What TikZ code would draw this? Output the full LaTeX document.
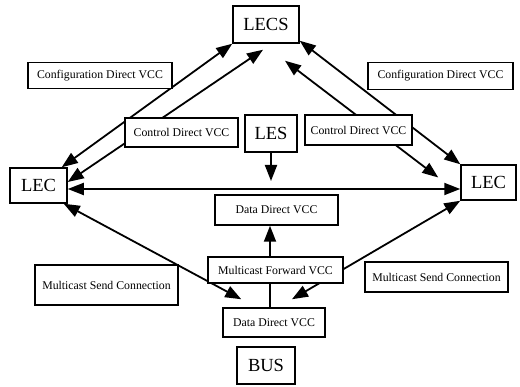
\documentclass[tikz,border=0pt]{standalone}
\usepackage{fontspec}
\setmainfont{Liberation Serif}
\usetikzlibrary{arrows.meta,backgrounds}
\begin{document}
\begin{tikzpicture}[x=1pt,y=-1pt,
  lbl/.style={draw, line width=1.5pt, fill=white, inner sep=0pt, font=\fontsize{11.8}{13}\selectfont},
  big/.style={draw, line width=1.5pt, fill=white, inner sep=0pt, font=\fontsize{18.5}{20}\selectfont},
  tip/.tip={Triangle[length=16pt,width=12pt]},
  conn/.style={line width=1.8pt, tip-tip},
  one/.style={line width=1.8pt, -tip}]
\useasboundingbox (0,0) rectangle (520,387);
% main entities
\node[big, minimum width=66pt, minimum height=37pt] (lecs) at (266,24.5) {LECS};
\node[big, minimum width=57pt, minimum height=35pt] (lecL) at (38.5,185.5) {LEC};
\node[big, minimum width=55pt, minimum height=35pt] (lecR) at (488.5,182.5) {LEC};
\node[big, minimum width=52pt, minimum height=37pt] (les) at (271,133.5) {LES};
\node[big, minimum width=58pt, minimum height=37pt] (bus) at (266,365.5) {BUS};
% labels
\node[lbl, minimum width=144pt, minimum height=26pt] (cfgL) at (100,75.5) {Configuration Direct VCC};
\node[lbl, minimum width=145pt, minimum height=27pt] (cfgR) at (440.5,76) {Configuration Direct VCC};
\node[lbl, minimum width=113pt, minimum height=29pt] (ctlL) at (181.5,132.5) {Control Direct VCC};
\node[lbl, minimum width=107pt, minimum height=30pt] (ctlR) at (358.5,130) {Control Direct VCC};
\node[lbl, minimum width=123pt, minimum height=30pt] (dd1) at (276.5,210) {Data Direct VCC};
\node[lbl, minimum width=135pt, minimum height=26pt] (mfw) at (275.5,270) {Multicast Forward VCC};
\node[lbl, minimum width=102pt, minimum height=29pt] (dd2) at (274,322.5) {Data Direct VCC};
\node[lbl, minimum width=143pt, minimum height=40pt] (msL) at (106.5,285) {Multicast Send Connection};
\node[lbl, minimum width=143pt, minimum height=30pt] (msR) at (436.5,277) {Multicast Send Connection};
\coordinate (lesend) at (271,181);
\begin{scope}[on background layer]
\draw[conn] ([xshift=-6pt]lecL.north east) -- (lecs.south west);
\draw[conn] ([yshift=3.5pt]lecL.east) -- ([xshift=-3pt,yshift=-6pt]lecs.south);
\draw[conn] ([yshift=3pt]lecs.south east) -- (lecR.north west);
\draw[conn] ([xshift=19pt,yshift=-17pt]lecs.south) -- ([xshift=-22pt,yshift=5pt]lecR.west);
\draw[conn] ([yshift=-3.5pt]lecL.east) -- ([yshift=-6.5pt]lecR.west);
\draw[conn] ([xshift=-4pt]lecL.south east) -- ([xshift=19pt,yshift=8pt]dd2.north west);
\draw[conn] (lecR.south west) -- ([xshift=18pt,yshift=8pt]dd2.north);
\draw[one] (les.south) -- (lesend);
\draw[one] ([xshift=-4pt]dd2.north) -- ([xshift=-6.5pt]dd1.south);
\end{scope}
\end{tikzpicture}
\end{document}
